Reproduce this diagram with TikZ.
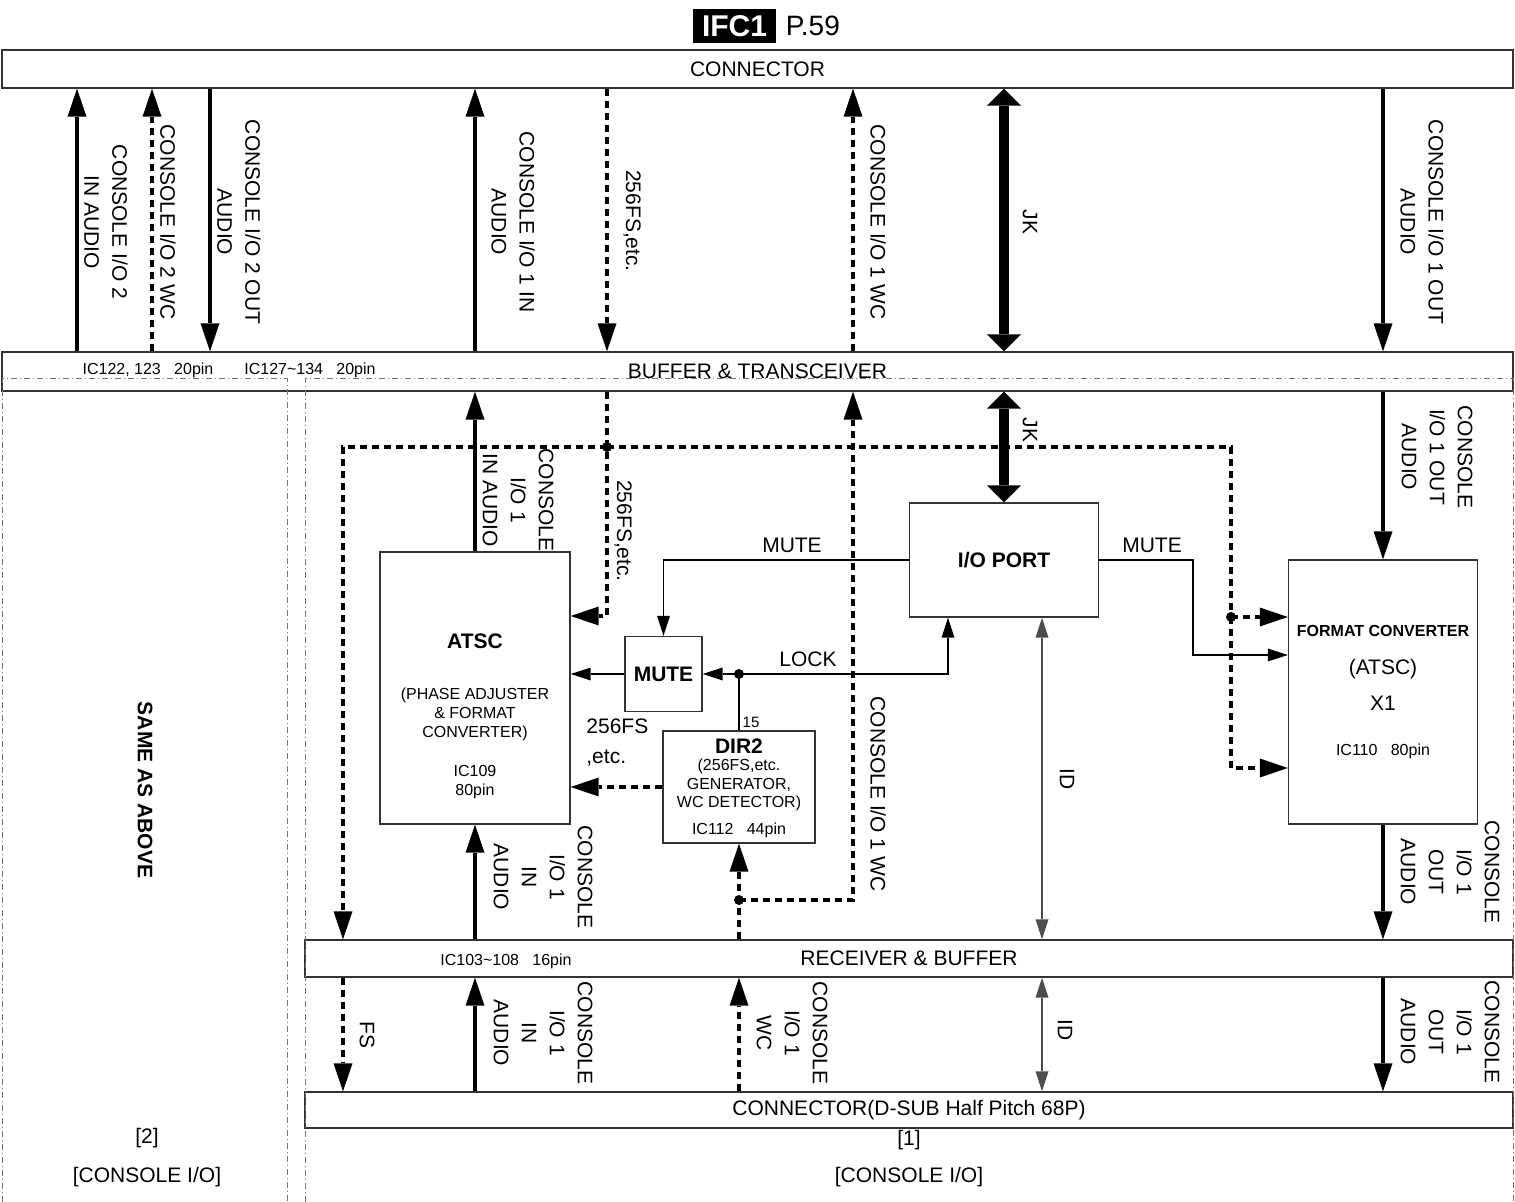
\documentclass[tikz,border=0pt]{standalone}
\usepackage{fontspec}
\setmainfont{Liberation Sans}
\usetikzlibrary{arrows.meta,positioning}

\begin{document}
\begin{tikzpicture}[
    x=0.5pt, y=-0.5pt,
    font=\fontsize{10.5}{14}\selectfont,
    box/.style={draw=black!80, line width=0.7pt, inner sep=0pt},
    lbl/.style={rotate=-90, align=center, inner sep=0pt},
    note/.style={font=\fontsize{8}{9.5}\selectfont, align=center, inner sep=0pt},
    hd/.style={font=\fontsize{10.5}{12}\selectfont\bfseries, inner sep=0pt},
    aud/.style={line width=1.6pt, -{Triangle[length=14pt,width=9.5pt,line width=0pt]}},
    clk/.style={aud, dash pattern=on 3.5pt off 2.5pt},
    dsh/.style={line width=1.6pt, dash pattern=on 3.5pt off 2.5pt},
    ctl/.style={line width=0.6pt, -{Triangle[length=10pt,width=6.5pt,line width=0pt]}},
    idl/.style={line width=0.6pt, black!70, {Triangle[length=10pt,width=6.5pt,line width=0pt]}-{Triangle[length=10pt,width=6.5pt,line width=0pt]}},
    bus/.style={line width=5pt, {Triangle[length=8.5pt,width=17pt,line width=0pt]}-{Triangle[length=8.5pt,width=17pt,line width=0pt]}},
    panel/.style={black!55, line width=0.5pt, dash pattern=on 3pt off 1.5pt on 0.5pt off 1.5pt}
  ]
  \useasboundingbox (0,0) rectangle (1515,1202);

  % title
  \node[fill=black, text=white, font=\fontsize{15}{18}\selectfont\bfseries,
        minimum width=41.5pt, minimum height=17pt, inner sep=0pt] (ifc) at (734.5,26) {IFC1};
  \node[right=4.5pt of ifc, inner sep=0pt, font=\fontsize{14}{16}\selectfont] (page) {P.59};

  % blocks
  \node[box, minimum width=755.5pt, minimum height=19pt] (conn) at (757.5,69) {CONNECTOR};
  \node[box, minimum width=755.5pt, minimum height=19.5pt] (buf) at (757.5,371.5) {BUFFER \& TRANSCEIVER};
  \node[box, minimum width=604pt, minimum height=18.5pt] (recv) at (909,958.5) {RECEIVER \& BUFFER};
  \node[box, minimum width=604pt, minimum height=18pt] (dsub) at (909,1110) {CONNECTOR(D-SUB Half Pitch 68P)};
  \node[box, minimum width=95pt, minimum height=136pt] (atsc) at (475,688) {};
  \node[box, hd, minimum width=38.5pt, minimum height=37.5pt] (mute) at (663.5,674) {MUTE};
  \node[box, minimum width=76pt, minimum height=56pt] (dir) at (739,787) {};
  \node[box, hd, minimum width=94.5pt, minimum height=57pt] (iop) at (1004,560) {I/O PORT};
  \node[box, minimum width=94.5pt, minimum height=132pt] (fc) at (1383,692) {};

  % text inside the blocks
  \node[note] (ic1) at (148,370) {IC122, 123\ \ \ 20pin};
  \node[note] (ic2) at (310,370) {IC127\textasciitilde134\ \ \ 20pin};
  \node[note] (ic3) at (506,961) {IC103\textasciitilde108\ \ \ 16pin};
  \node[hd] (atsct) at (475,641) {ATSC};
  \node[note] (atscs) at (475,714) {(PHASE ADJUSTER\\\& FORMAT\\CONVERTER)};
  \node[note] (atscic) at (475,782) {IC109\\80pin};
  \node[hd] (dirt) at (739,746) {DIR2};
  \node[note, font=\fontsize{8}{9.25}\selectfont] (dirs) at (739,785) {(256FS,etc.\\GENERATOR,\\WC DETECTOR)};
  \node[note] (diric) at (739,830) {IC112\ \ \ 44pin};
  \node[hd, font=\fontsize{8}{9}\selectfont\bfseries] (fct) at (1383,631) {FORMAT CONVERTER};
  \node[inner sep=0pt] (fcs) at (1383,669) {(ATSC)};
  \node[inner sep=0pt] (fcx) at (1383,703) {X1};
  \node[note] (fcic) at (1383,751) {IC110\ \ \ 80pin};

  % columns
  \coordinate (xa) at (77,0);
  \coordinate (xb) at (152,0);
  \coordinate (xc) at (210,0);
  \coordinate (xd) at (475,0);
  \coordinate (xe) at (607,0);
  \coordinate (xf) at (853,0);
  \coordinate (xg) at (1004,0);
  \coordinate (xh) at (1383,0);
  \coordinate (xi) at (343,0);
  \coordinate (xj) at (739,0);
  \coordinate (xk) at (1042,0);
  \coordinate (xn) at (948,0);
  \coordinate (xo) at (1193,0);
  % junctions
  \coordinate (jbus) at (607,447);
  \coordinate (jfc) at (1231,617);
  \coordinate (jlk) at (739,674);
  \coordinate (jwc) at (739,900);

  % connector <-> buffer
  \draw[aud] (buf.north -| xa) -- (conn.south -| xa);
  \draw[clk] (buf.north -| xb) -- (conn.south -| xb);
  \draw[aud] (conn.south -| xc) -- (buf.north -| xc);
  \draw[aud] (buf.north -| xd) -- (conn.south -| xd);
  \draw[clk] (conn.south -| xe) -- (buf.north -| xe);
  \draw[clk] (buf.north -| xf) -- (conn.south -| xf);
  \draw[bus] (conn.south -| xg) -- (buf.north -| xg);
  \draw[aud] (conn.south -| xh) -- (buf.north -| xh);

  % 256FS bus
  \draw[dsh] (jbus) -| (jfc);
  \draw[clk] (jbus) -| (recv.north -| xi);
  \draw[clk] (buf.south -| xe) |- ([yshift=36pt]atsc.east);
  \draw[clk] (jfc) -- (jfc -| fc.west);
  \draw[clk] (jfc) |- ([yshift=-38pt]fc.west);
  \fill (jbus) circle (2.5pt);
  \fill (jfc) circle (2.5pt);

  % buffer -> blocks
  \draw[aud] (atsc.north) -- (buf.south -| atsc.north);
  \draw[bus] (buf.south -| iop.north) -- (iop.north);
  \draw[aud] (buf.south -| fc.north) -- (fc.north);

  % control lines
  \draw[ctl] (iop.west) -| (mute.north);
  \draw[ctl] (mute.west) -- (mute.west -| atsc.east);
  \draw[ctl] (iop.east) -- (iop.east -| xo) |- ([yshift=18.5pt]fc.west);
  \draw[line width=0.6pt] (dir.north) -- (jlk);
  \draw[ctl] (jlk) -- (mute.east);
  \draw[ctl] (jlk) -| (iop.south -| xn);
  \fill (jlk) circle (2.5pt);
  \draw[clk] (dir.west) -- (dir.west -| atsc.east);
  \draw[idl] (iop.south -| xk) -- (recv.north -| xk);

  % word clock
  \draw[clk] (recv.north -| xj) -- (dir.south);
  \draw[clk] (jwc) -| (buf.south -| xf);
  \fill (jwc) circle (2.5pt);

  % blocks -> receiver
  \draw[aud] (recv.north -| xd) -- (atsc.south);
  \draw[aud] (fc.south) -- (recv.north -| fc.south);

  % receiver <-> D-SUB
  \draw[clk] (recv.south -| xi) -- (dsub.north -| xi);
  \draw[aud] (dsub.north -| xd) -- (recv.south -| xd);
  \draw[clk] (dsub.north -| xj) -- (recv.south -| xj);
  \draw[idl] (recv.south -| xk) -- (dsub.north -| xk);
  \draw[aud] (recv.south -| xh) -- (dsub.north -| xh);

  % panels
  \draw[panel] (2,1202) -- (2,379) -- (287,379) -- (287,1202);
  \draw[panel] (305,1202) -- (305,379) -- (1513,379) -- (1513,1202);

  % signal labels
  \node[lbl] (l1) at (106,222) {CONSOLE I/O 2\\IN AUDIO};
  \node[lbl] (l2) at (168,222) {CONSOLE I/O 2 WC};
  \node[lbl] (l3) at (239,222) {CONSOLE I/O 2 OUT\\AUDIO};
  \node[lbl] (l4) at (513,222) {CONSOLE I/O 1 IN\\AUDIO};
  \node[lbl] (l5) at (632,221) {256FS,etc.};
  \node[lbl] (l6) at (878,222) {CONSOLE I/O 1 WC};
  \node[lbl] (l7) at (1030,222) {JK};
  \node[lbl] (l8) at (1422,222) {CONSOLE I/O 1 OUT\\AUDIO};

  \node[lbl] (m1) at (518,500) {CONSOLE\\I/O 1\\IN AUDIO};
  \node[lbl] (m2) at (623,531) {256FS,etc.};
  \node[lbl] (m3) at (1030,430) {JK};
  \node[lbl] (m4) at (1437,457) {CONSOLE\\I/O 1 OUT\\AUDIO};
  \node[lbl] (m5) at (878,794) {CONSOLE I/O 1 WC};
  \node[lbl] (m6) at (1067,779) {ID};
  \node[lbl] (m7) at (543,877) {CONSOLE\\I/O 1\\IN\\AUDIO};
  \node[lbl] (m8) at (1450,872) {CONSOLE\\I/O 1\\OUT\\AUDIO};

  \node[lbl] (b1) at (367,1035) {FS};
  \node[lbl] (b2) at (543,1033) {CONSOLE\\I/O 1\\IN\\AUDIO};
  \node[lbl] (b3) at (792,1033) {CONSOLE\\I/O 1\\WC};
  \node[lbl] (b4) at (1065,1030) {ID};
  \node[lbl] (b5) at (1450,1032) {CONSOLE\\I/O 1\\OUT\\AUDIO};

  \node[inner sep=0pt] (t1) at (792,545) {MUTE};
  \node[inner sep=0pt] (t2) at (1152,545) {MUTE};
  \node[inner sep=0pt] (t3) at (808,659) {LOCK};
  \node[inner sep=0pt, font=\fontsize{7.5}{9}\selectfont] (t4) at (751,722) {15};
  \node[inner sep=0pt, align=left, anchor=west, font=\fontsize{10.5}{15}\selectfont] (t5) at (586,743) {256FS\\,etc.};

  % board names
  \node[lbl, font=\fontsize{10.5}{12}\selectfont\bfseries] (same) at (145,790) {SAME AS ABOVE};
  \node[inner sep=0pt] (n2) at (147,1138) {[2]};
  \node[inner sep=0pt] (n2b) at (147,1177) {[CONSOLE I/O]};
  \node[inner sep=0pt] (n1) at (909,1140) {[1]};
  \node[inner sep=0pt] (n1b) at (909,1177) {[CONSOLE I/O]};
\end{tikzpicture}
\end{document}
